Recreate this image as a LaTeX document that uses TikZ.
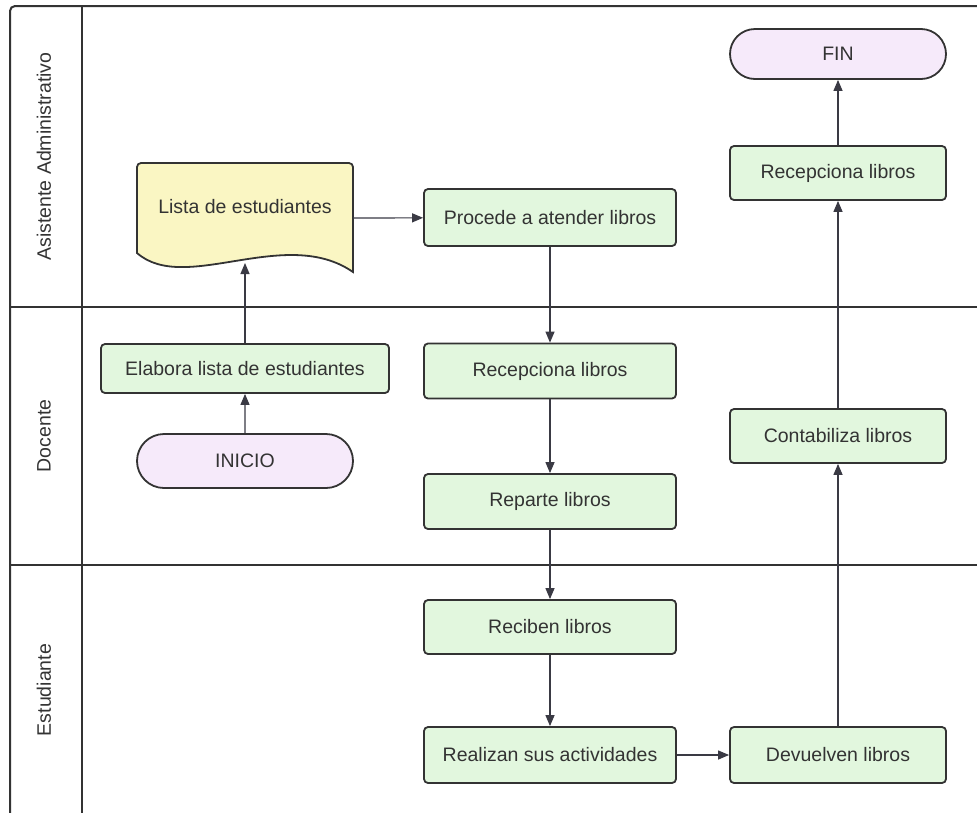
\documentclass[tikz,border=0pt]{standalone}
\usepackage{fontspec}
\setmainfont{Liberation Sans}
\usetikzlibrary{arrows.meta,shapes.misc}
\definecolor{ink}{HTML}{333333}
\definecolor{edge}{HTML}{3A3A44}
\definecolor{procfill}{HTML}{E2F7DE}
\definecolor{termfill}{HTML}{F6EAFA}
\definecolor{docfill}{HTML}{FAF6C3}
\tikzset{
  lane/.style={draw=ink, line width=2pt},
  lanelabel/.style={rotate=90, text=ink, font=\fontsize{19.5}{23}\selectfont},
  procbox/.style={draw=ink, line width=1.8pt, fill=procfill, rounded corners=4pt,
    text=ink, inner sep=0pt, font=\fontsize{19.5}{23}\selectfont},
  termbox/.style={rounded rectangle, draw=ink, line width=1.8pt, fill=termfill,
    text=ink, inner sep=0pt, minimum width=216pt, font=\fontsize{19.5}{23}\selectfont},
  flow/.style={draw=edge, line width=1.2pt, -{Triangle[length=11pt,width=9pt]}},
}
\begin{document}
\begin{tikzpicture}[x=1pt,y=-1pt]
\useasboundingbox (0,0) rectangle (977,812);
\clip (0,0) rectangle (977,812);
\fill[white] (0,0) rectangle (977,812);

% swimlane frame
\draw[lane, rounded corners=5pt] (10,830) -- (10,6) -- (995,6);
\draw[lane] (82,6) -- (82,830);
\draw[lane] (10,307) -- (995,307);
\draw[lane] (10,565) -- (995,565);

% lane titles
\node[lanelabel] (l1) at (44,156.5) {Asistente Administrativo};
\node[lanelabel] (l2) at (44,436) {Docente};
\node[lanelabel] (l3) at (44,690) {Estudiante};

% document shape
\draw[draw=ink, line width=1.8pt, fill=docfill, rounded corners=4pt]
  (137,253) -- (137,163) -- (353,163) [rounded corners=0pt] -- (353,272)
  .. controls (285,225) and (185,295) .. (137,253) -- cycle;
\node[text=ink, inner sep=0pt, font=\fontsize{19.5}{23}\selectfont]
  (lista) at (245,207) {Lista de estudiantes};
\coordinate (listabot) at (245,263);
\coordinate (listaright) at (353,218);

% process steps
\node[termbox, minimum height=50pt] (fin) at (838,54) {FIN};
\node[procbox, minimum width=216pt, minimum height=54pt] (recep1) at (838,173) {Recepciona libros};
\node[procbox, minimum width=252pt, minimum height=57pt] (procede) at (550,217.5) {Procede a atender libros};
\node[procbox, minimum width=288pt, minimum height=49pt] (elabora) at (245,368.5) {Elabora lista de estudiantes};
\node[termbox, minimum height=54pt] (inicio) at (245,461) {INICIO};
\node[procbox, minimum width=252pt, minimum height=55pt] (recep2) at (550,371) {Recepciona libros};
\node[procbox, minimum width=252pt, minimum height=55pt] (reparte) at (550,501.5) {Reparte libros};
\node[procbox, minimum width=216pt, minimum height=54pt] (contab) at (838,436) {Contabiliza libros};
\node[procbox, minimum width=252pt, minimum height=54pt] (reciben) at (550,627) {Reciben libros};
\node[procbox, minimum width=252pt, minimum height=56pt] (realizan) at (550,755) {Realizan sus actividades};
\node[procbox, minimum width=216pt, minimum height=56pt] (devuelven) at (838,755) {Devuelven libros};

% connectors
\draw[flow] (inicio) -- (elabora);
\draw[flow] (elabora) -- (listabot);
\draw[flow] (listaright) -- (procede);
\draw[flow] (procede) -- (recep2);
\draw[flow] (recep2) -- (reparte);
\draw[flow] (reparte) -- (reciben);
\draw[flow] (reciben) -- (realizan);
\draw[flow] (realizan) -- (devuelven);
\draw[flow] (devuelven) -- (contab);
\draw[flow] (contab) -- (recep1);
\draw[flow] (recep1) -- (fin);
\end{tikzpicture}
\end{document}
